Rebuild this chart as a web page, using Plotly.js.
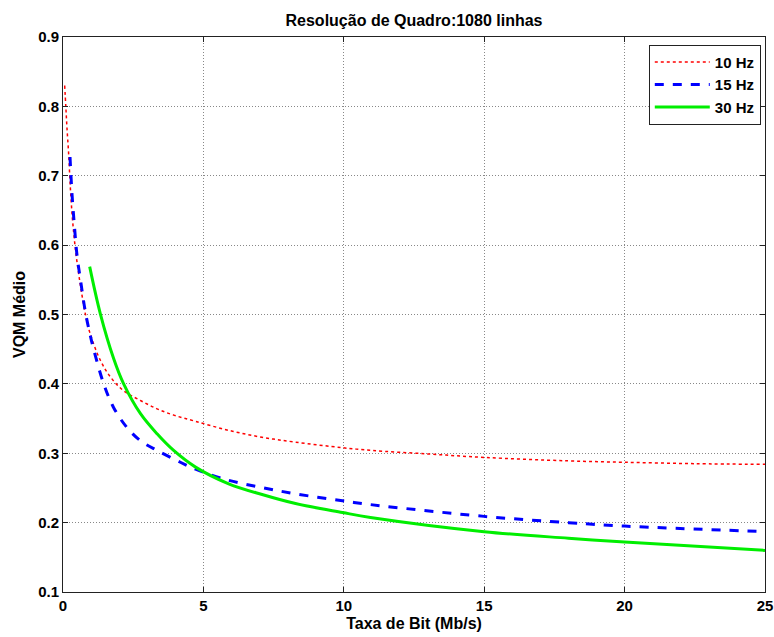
<!DOCTYPE html>
<html>
<head>
<meta charset="utf-8">
<script src="https://cdn.plot.ly/plotly-3.0.1.min.js"></script>
<style>html,body{margin:0;padding:0;background:#fff;}#chart{width:774px;height:637px;}</style>
</head>
<body>
<div id="chart"></div>
<script>
const x10 = [0.06,0.1,0.14,0.2,0.26,0.34,0.46,0.62,0.8,0.97,1.33,1.69,2.16,2.76,3.35,3.94,4.72,5.9,7.09,8.28,9.95,11,13,15,18,20,22.5,25];
const y10 = [0.83,0.80,0.77,0.732,0.684,0.636,0.588,0.542,0.5,0.472,0.434,0.410,0.390,0.376,0.364,0.355,0.346,0.333,0.323,0.316,0.308,0.304,0.299,0.294,0.289,0.287,0.285,0.284];

const x15 = [0.25,0.32,0.41,0.5,0.64,0.8,0.97,1.09,1.45,1.8,2.28,2.76,3.35,4.18,4.72,5.9,7.09,8.28,9.95,10.95,15,18,20,25];
const y15 = [0.727,0.674,0.626,0.585,0.545,0.503,0.470,0.45,0.40,0.366,0.337,0.318,0.304,0.287,0.277,0.261,0.2505,0.2415,0.2315,0.226,0.209,0.200,0.195,0.187];

const x30 = [0.95,1.33,1.8,2.16,2.76,3.35,3.94,4.72,5.9,7.09,8.28,9.95,10.95,15,18,20,25];
const y30 = [0.569,0.501,0.437,0.400,0.357,0.328,0.304,0.280,0.256,0.2405,0.2275,0.2146,0.2075,0.187,0.1775,0.172,0.160];

const names = ["10 Hz","15 Hz","30 Hz"];
const xTicks = [0,5,10,15,20,25];
const yTicks = [0.1,0.2,0.3,0.4,0.5,0.6,0.7,0.8,0.9];

const F = "Liberation Sans, Arial, sans-serif";
const traces = [
  {x:x10, y:y10, name:names[0], mode:"lines", line:{color:"#ff0000", width:1.5, dash:"dot", shape:"spline"}},
  {x:x15, y:y15, name:names[1], mode:"lines", line:{color:"#0000ff", width:3, dash:"dash", shape:"spline"}},
  {x:x30, y:y30, name:names[2], mode:"lines", line:{color:"#00ee00", width:3, shape:"spline"}}
];
const axisCommon = {
  showline:true, linecolor:"#222", linewidth:1, mirror:"ticks",
  ticks:"inside", ticklen:5, tickcolor:"#222",
  showgrid:true, gridcolor:"#888", griddash:"1px,2px", gridwidth:1,
  zeroline:false, tickfont:{family:F, size:15, color:"#000", weight:"bold"}
};
const layout = {
  width:774, height:637,
  margin:{l:63, r:9, t:37, b:45},
  paper_bgcolor:"#fff", plot_bgcolor:"#fff",
  title:{text:"<b>Resolução de Quadro:1080 linhas</b>", font:{family:F, size:16, color:"#000"}, x:0.5, xref:"paper", y:0.968, yanchor:"middle"},
  xaxis:Object.assign({}, axisCommon, {range:[0,25], tickvals:xTicks, ticktext:xTicks.map(String),
    title:{text:"<b>Taxa de Bit (Mb/s)</b>", font:{family:F, size:16, color:"#000"}, standoff:4}}),
  yaxis:Object.assign({}, axisCommon, {range:[0.1,0.9], tickvals:yTicks, ticktext:yTicks.map(v=>v.toFixed(1)),
    title:{text:"<b>VQM Médio</b>", font:{family:F, size:16, color:"#000"}, standoff:8}}),
  legend:{x:0.994, xanchor:"right", y:0.986, yanchor:"top", bordercolor:"#222", borderwidth:1, bgcolor:"#fff",
    font:{family:F, size:15, color:"#000", weight:"bold"}, tracegroupgap:0, itemwidth:55},
  showlegend:true
};
Plotly.newPlot("chart", traces, layout, {displayModeBar:false, staticPlot:true});
</script>
</body>
</html>
